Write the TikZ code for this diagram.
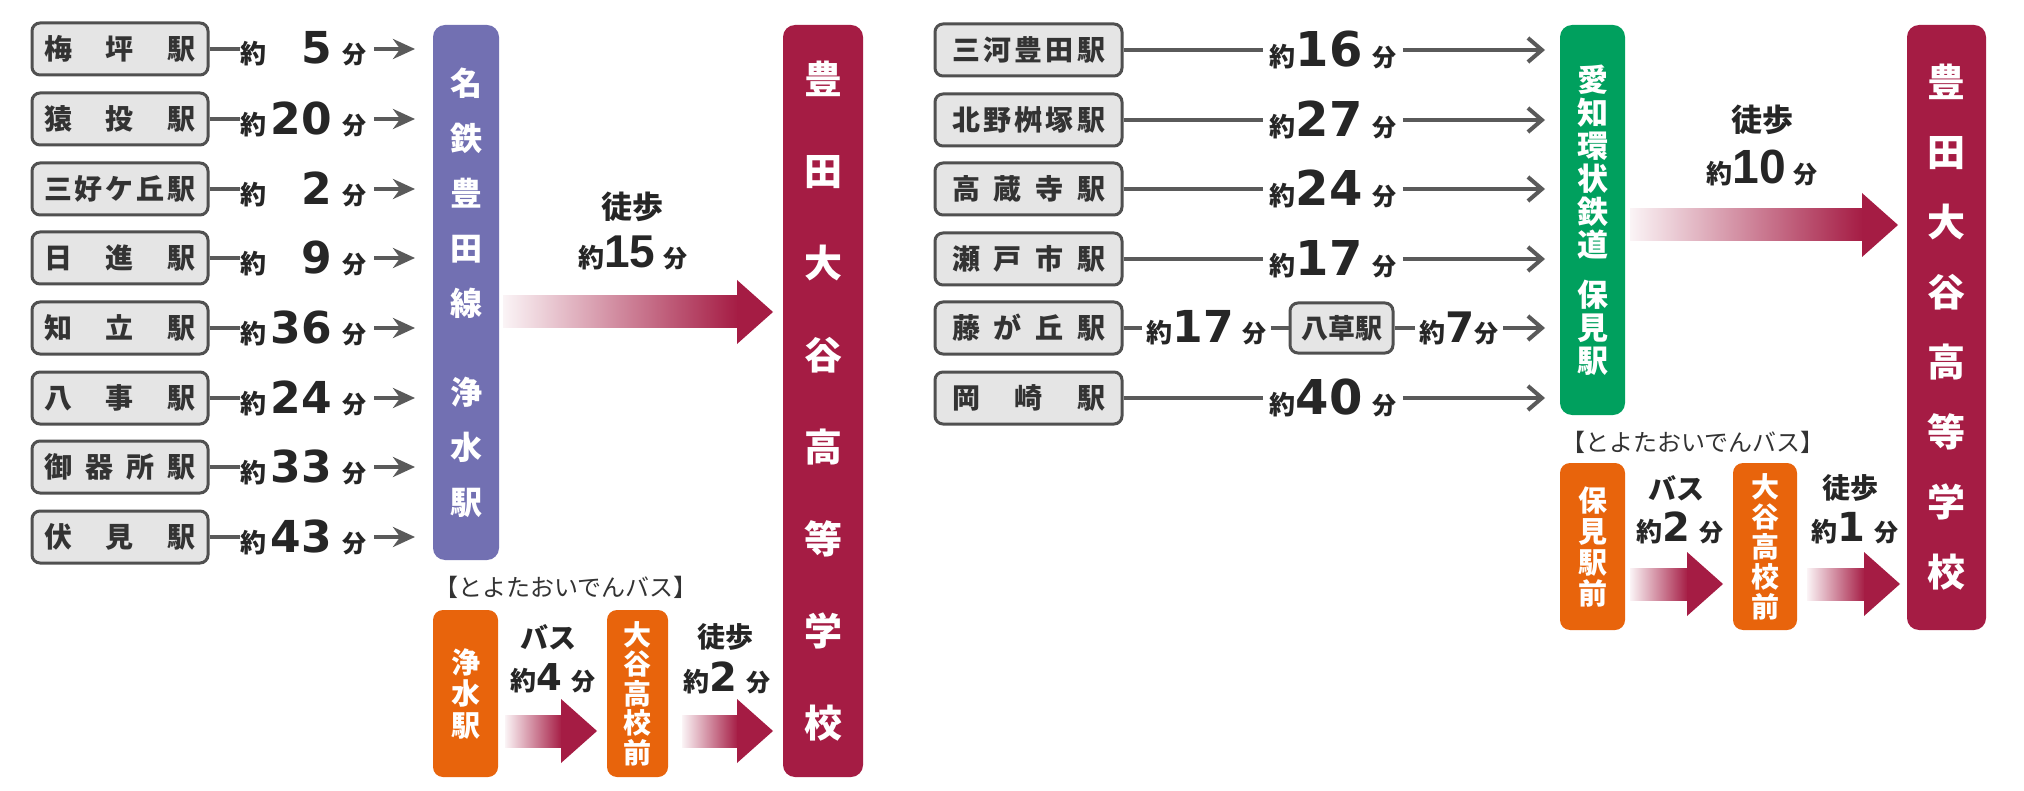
\documentclass[tikz,border=0pt]{standalone}
\usepackage{fontspec}
\setmainfont{Noto Sans CJK JP}
\newfontfamily\widenum{DejaVu Sans}
\newfontfamily\slimnum{Liberation Sans}
\usetikzlibrary{arrows.meta,positioning}

\definecolor{meitetsu}{RGB}{114,112,178}
\definecolor{aikan}{RGB}{0,160,94}
\definecolor{otani}{RGB}{165,28,68}
\definecolor{bus}{RGB}{232,100,12}
\definecolor{boxfill}{RGB}{229,229,229}
\definecolor{boxline}{RGB}{80,80,80}
\definecolor{ln}{RGB}{90,90,90}

% big digits: size, digits
\newcommand{\wnum}[2]{{\widenum\bfseries\fontsize{#1}{#1}\selectfont#2}}
\newcommand{\snum}[2]{{\slimnum\bfseries\fontsize{#1}{#1}\selectfont#2}}
\newcommand{\yaku}{{\fontsize{13}{13}\selectfont 約}}
\newcommand{\minu}{{\fontsize{12}{12}\selectfont 分}}

\begin{document}
\begin{tikzpicture}[x=0.5pt, y=-0.5pt, font=\bfseries, text=black!85,
  stn/.style={draw=boxline, line width=1.5pt, fill=boxfill, rounded corners=4pt,
    minimum height=26pt, inner sep=0pt, text=black!80},
  bar/.style={rounded corners=6pt, inner sep=0pt, text=white, align=center},
  busbox/.style={bar, fill=bus, rounded corners=5pt, minimum height=83.5pt},
  leg/.style={draw=ln, line width=2pt},
  pics/walk/.style={code={
    \shade[left color=otani!5, right color=otani] (0,-16) rectangle (#1-35,16);
    \fill[otani] (#1-36,-32) -- (#1,0) -- (#1-36,32) -- cycle;}}]
\useasboundingbox (0,0) rectangle (2024,791);
\fill[white] (0,0) rectangle (2024,791);

% bars
\node[bar, fill=meitetsu, minimum width=33pt, minimum height=267.5pt,
  font=\bfseries\fontsize{16}{27.5}\selectfont] (mt) at (466,292.5)
  {名\\鉄\\豊\\田\\線\\[17pt]浄\\水\\駅};
\node[bar, fill=otani, minimum width=40pt, minimum height=376pt,
  font=\bfseries\fontsize{19}{46}\selectfont] (sc1) at (823,401)
  {豊\\田\\大\\谷\\高\\等\\学\\校};
\node[bar, fill=aikan, minimum width=32.5pt, minimum height=195pt,
  font=\bfseries\fontsize{15.5}{16.5}\selectfont] (ak) at (1592.5,220)
  {愛\\知\\環\\状\\鉄\\道\\[8.5pt]保\\見\\駅};
\node[bar, fill=otani, minimum width=39.5pt, minimum height=302.5pt,
  font=\bfseries\fontsize{19}{35}\selectfont] (sc2) at (1946.5,327.5)
  {豊\\田\\大\\谷\\高\\等\\学\\校};

% Meitetsu stations
\foreach \i/\y/\n/\m in {1/49/梅\hfill 坪\hfill 駅/5, 2/119/猿\hfill 投\hfill 駅/20,
    3/189/三\hfill 好\hfill ケ\hfill 丘\hfill 駅/2, 4/258/日\hfill 進\hfill 駅/9,
    5/328/知\hfill 立\hfill 駅/36, 6/398/八\hfill 事\hfill 駅/24,
    7/467/御\hfill 器\hfill 所\hfill 駅/33, 8/537/伏\hfill 見\hfill 駅/43} {
  \node[stn, minimum width=88pt, font=\bfseries\fontsize{14}{14}\selectfont]
    (l\i) at (120,\y) {\makebox[76pt][s]{\n}};
  \node[inner sep=0pt] (t\i) at (303,\y)
    {\makebox[63pt]{\yaku\hfill\wnum{22}{\m}\hspace{5pt}\minu}};
  \coordinate (a\i) at (415,\y);
  \draw[leg] (l\i) -- (t\i);
  \draw[leg, shorten <=4pt, -{Stealth[length=11pt,width=10pt]}] (t\i) -- (a\i);
}

% Aikan stations
\foreach \i/\y/\n/\m in {1/50/三\hfill 河\hfill 豊\hfill 田\hfill 駅/16,
    2/120/北\hfill 野\hfill 桝\hfill 塚\hfill 駅/27,
    3/189/高\hfill 蔵\hfill 寺\hfill 駅/24, 4/259/瀬\hfill 戸\hfill 市\hfill 駅/17,
    6/398/岡\hfill 崎\hfill 駅/40} {
  \node[stn, minimum width=93.5pt, font=\bfseries\fontsize{14}{14}\selectfont]
    (r\i) at (1028.5,\y) {\makebox[76.5pt][s]{\n}};
  \node[inner sep=3pt] (q\i) at (1333,\y) {\yaku\wnum{24}{\m}\hspace{5pt}\minu};
  \coordinate (e\i) at (1545,\y);
  \draw[leg] (r\i) -- (q\i);
  \draw[leg, -{Straight Barb[length=7pt,width=12pt]}] (q\i) -- (e\i);
}
\node[stn, minimum width=93.5pt, font=\bfseries\fontsize{14}{14}\selectfont]
  (r5) at (1028.5,328) {\makebox[76.5pt][s]{藤\hfill が\hfill 丘\hfill 駅}};
\node[inner sep=2pt] (f1) at (1206.5,328) {\yaku\wnum{22}{17}\hspace{4pt}\minu};
\node[stn, minimum width=51.5pt, minimum height=25pt,
  font=\bfseries\fontsize{13.5}{13.5}\selectfont] (yk) at (1341.5,328) {八草駅};
\node[inner sep=2pt] (f2) at (1459,328) {\yaku\wnum{21}{7}\minu};
\coordinate (e5) at (1545,328);
\draw[leg] (r5) -- (f1);
\draw[leg] (f1) -- (yk);
\draw[leg] (yk) -- (f2);
\draw[leg, -{Straight Barb[length=7pt,width=12pt]}] (f2) -- (e5);

% walk to school
\coordinate (w1) at (503,312);
\coordinate (w2) at (1630,225);
\pic at (w1) {walk=270};
\pic at (w2) {walk=268};
\node[font=\bfseries\fontsize{15.5}{15.5}\selectfont] (tw1) at (632,207) {徒歩};
\node (tm1) at (633,253) {\yaku\snum{23}{15}\hspace{4pt}\minu};
\node[font=\bfseries\fontsize{15.5}{15.5}\selectfont] (tw2) at (1762,120) {徒歩};
\node (tm2) at (1762,168) {\yaku\snum{24}{10}\hspace{4pt}\minu};

% oiden bus
\node[font=\fontsize{12}{12}\selectfont, text=black!80] (od1) at (566,587) {【とよたおいでんバス】};
\node[font=\fontsize{12}{12}\selectfont, text=black!80] (od2) at (1693,442) {【とよたおいでんバス】};
\node[busbox, minimum width=32.5pt, font=\bfseries\fontsize{14.5}{15.75}\selectfont]
  (jo) at (465.5,693.5) {浄\\水\\駅};
\node[busbox, minimum width=30.5pt, font=\bfseries\fontsize{14}{14.75}\selectfont]
  (oy1) at (637.5,693.5) {大\\谷\\高\\校\\前};
\node[busbox, minimum width=32.5pt, font=\bfseries\fontsize{14.5}{15.5}\selectfont]
  (hm) at (1592.5,546.5) {保\\見\\駅\\前};
\node[busbox, minimum width=32pt, font=\bfseries\fontsize{14}{15}\selectfont]
  (oy2) at (1765,546.5) {大\\谷\\高\\校\\前};
\foreach \n/\x/\y/\l in {b1/505/731/92, b2/682/731/91, b3/1630/584/93, b4/1807/584/93} {
  \coordinate (\n) at (\x,\y);
  \pic at (\n) {walk=\l};
}
\node[font=\bfseries\fontsize{14}{14}\selectfont] (bl1) at (548,637) {バス};
\node (bm1) at (553,678) {\yaku\wnum{18.5}{4}\hspace{5pt}\minu};
\node[font=\bfseries\fontsize{14}{14}\selectfont] (wl1) at (725,637) {徒歩};
\node (wm1) at (727,678) {\yaku\wnum{20}{2}\hspace{5pt}\minu};
\node[font=\bfseries\fontsize{14}{14}\selectfont] (bl2) at (1676,488) {バス};
\node (bm2) at (1680,528) {\yaku\wnum{20}{2}\hspace{5pt}\minu};
\node[font=\bfseries\fontsize{14}{14}\selectfont] (wl2) at (1850,488) {徒歩};
\node (wm2) at (1855,528) {\yaku\wnum{20}{1}\hspace{5pt}\minu};
\end{tikzpicture}
\end{document}
